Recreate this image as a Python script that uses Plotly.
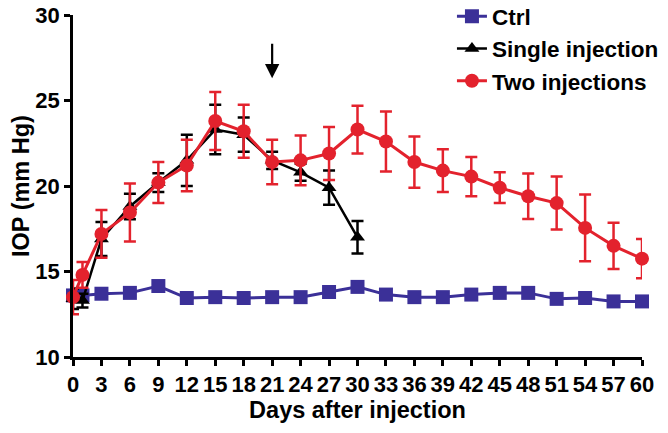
import plotly.graph_objects as go

# ---- data ----
ctrl_days = [0, 1, 3, 6, 9, 12, 15, 18, 21, 24, 27, 30, 33, 36, 39, 42, 45, 48, 51, 54, 57, 60]
ctrl_iop = [13.6, 13.6, 13.7, 13.75, 14.15, 13.45, 13.5, 13.45, 13.5, 13.5, 13.8, 14.1,
            13.65, 13.5, 13.5, 13.65, 13.75, 13.75, 13.4, 13.45, 13.25, 13.25]
ctrl_err = [0.2] * len(ctrl_days)

single_days = [0, 1, 3, 6, 9, 12, 15, 18, 21, 24, 27, 30]
single_iop = [13.4, 13.3, 16.9, 18.8, 20.2, 21.5, 23.3, 23.0, 21.5, 20.8, 19.9, 17.0]
single_err = [0.6, 0.4, 1.0, 0.75, 0.55, 1.5, 1.45, 1.0, 0.5, 0.5, 1.0, 0.95]

two_days = [0, 1, 3, 6, 9, 12, 15, 18, 21, 24, 27, 30, 33, 36, 39, 42, 45, 48, 51, 54, 57, 60]
two_iop = [13.5, 14.8, 17.2, 18.45, 20.2, 21.2, 23.8, 23.2, 21.4, 21.5, 21.9, 23.3,
           22.6, 21.4, 20.9, 20.55, 19.9, 19.4, 19.0, 17.55, 16.5, 15.75]
two_err = [1.0, 0.75, 1.4, 1.7, 1.2, 1.5, 1.7, 1.55, 1.3, 1.45, 1.55, 1.4,
           1.75, 1.5, 1.25, 1.15, 0.9, 1.33, 1.55, 1.95, 1.35, 1.15]

x_ticks = list(range(0, 61, 3))
y_ticks = [10, 15, 20, 25, 30]
arrow_day = 21

BLUE = "#3b3098"
RED = "#e3222d"
BLACK = "#000000"
FONT = "Liberation Sans, Arial, sans-serif"

fig = go.Figure()

fig.add_trace(go.Scatter(
    x=ctrl_days, y=ctrl_iop, name="Ctrl", mode="lines+markers",
    line=dict(color=BLUE, width=3),
    marker=dict(symbol="square", size=14, color=BLUE),
    error_y=dict(type="data", array=ctrl_err, color=BLUE, thickness=2.5, width=6),
    cliponaxis=False, legendgroup="a"))

fig.add_trace(go.Scatter(
    x=single_days, y=single_iop, name="Single injection", mode="lines+markers",
    line=dict(color=BLACK, width=2.5),
    marker=dict(symbol="triangle-up", size=13, color=BLACK),
    error_y=dict(type="data", array=single_err, color=BLACK, thickness=2.5, width=6),
    cliponaxis=False, legendgroup="b"))

fig.add_trace(go.Scatter(
    x=two_days, y=two_iop, name="Two injections", mode="lines+markers",
    line=dict(color=RED, width=3),
    marker=dict(symbol="circle", size=14, color=RED),
    error_y=dict(type="data", array=two_err, color=RED, thickness=2.5, width=6),
    cliponaxis=False, legendgroup="c"))

fig.add_annotation(
    x=arrow_day, y=26.3, ax=arrow_day, ay=28.4, xref="x", yref="y", axref="x", ayref="y",
    text="", showarrow=True, arrowhead=2, arrowsize=1.3, arrowwidth=2.2, arrowcolor="black")

axis_common = dict(
    showline=True, linewidth=2.5, linecolor="black", ticks="outside", ticklen=6,
    tickwidth=2.5, tickcolor="black", showgrid=False, zeroline=False, automargin=False,
    tickfont=dict(family=FONT, size=22, color="black", weight="bold"))

fig.update_xaxes(range=[0, 60], tickvals=x_ticks,
                 title=dict(text="Days after injection",
                            font=dict(family=FONT, size=23.5, color="black", weight="bold"),
                            standoff=4),
                 **axis_common)
fig.update_yaxes(range=[10, 30], tickvals=y_ticks,
                 title=dict(text="IOP (mm Hg)",
                            font=dict(family=FONT, size=23.5, color="black", weight="bold"),
                            standoff=0),
                 **axis_common)

fig.update_layout(
    width=668, height=433,
    margin=dict(l=73, r=26, t=15, b=76, autoexpand=False),
    plot_bgcolor="white", paper_bgcolor="white",
    legend=dict(x=0.666, y=1.058, xanchor="left", yanchor="top",
                font=dict(family=FONT, size=22.5, color="black", weight="bold"),
                bgcolor="rgba(0,0,0,0)", tracegroupgap=0, traceorder="grouped"),
)

fig.write_html("out.html", config={"displayModeBar": False},
               post_script="document.body.style.margin='0';")
